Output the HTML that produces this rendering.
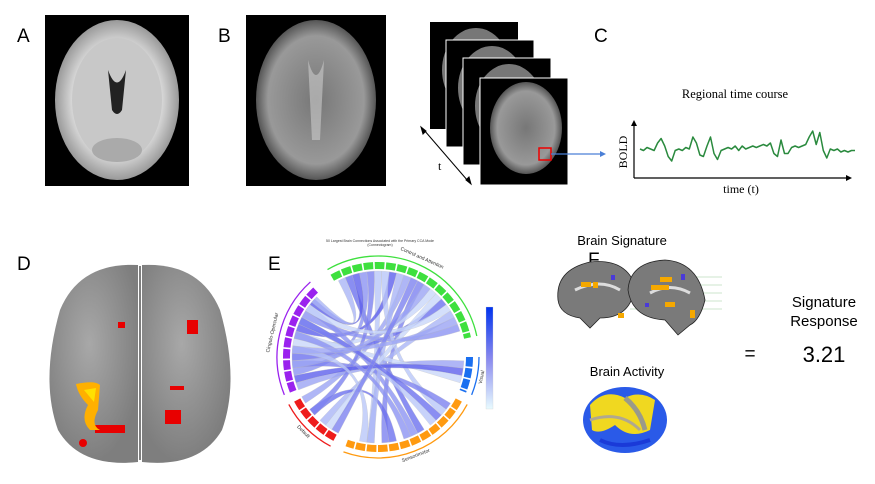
<!DOCTYPE html>
<html><head><meta charset="utf-8"><style>
body{margin:0;background:#fff;width:875px;height:484px;overflow:hidden;font-family:"Liberation Sans",sans-serif}
svg{position:absolute;left:0;top:0}
</style></head><body>
<svg width="875" height="484" viewBox="0 0 875 484">
<defs>
<radialGradient id="gA" cx="50%" cy="50%" r="50%"><stop offset="0" stop-color="#bbb"/><stop offset="0.7" stop-color="#ddd"/><stop offset="1" stop-color="#999"/></radialGradient>
<radialGradient id="gB" cx="50%" cy="50%" r="50%"><stop offset="0" stop-color="#777"/><stop offset="0.8" stop-color="#999"/><stop offset="1" stop-color="#555"/></radialGradient>
<radialGradient id="gD" cx="45%" cy="40%" r="60%"><stop offset="0" stop-color="#a8a8a8"/><stop offset="1" stop-color="#7e7e7e"/></radialGradient>
</defs>
<g font-family="Liberation Sans, sans-serif" font-size="19" fill="#000">
<text x="17" y="42">A</text>
<text x="218" y="42">B</text>
<text x="594" y="42">C</text>
<text x="17" y="270">D</text>
<text x="268" y="270">E</text>
<text x="588" y="266">F</text>
</g>
<g>
<rect x="45" y="15" width="144" height="171" fill="#000"/>
<ellipse cx="117" cy="100" rx="62" ry="80" fill="url(#gA)"/>
<ellipse cx="117" cy="100" rx="45" ry="62" fill="#c8c8c8"/>
<path d="M108 70 Q117 95 126 70 L122 110 Q117 118 112 110Z" fill="#222"/>
<ellipse cx="117" cy="150" rx="25" ry="12" fill="#aaa"/>
</g>
<g>
<rect x="246" y="15" width="140" height="171" fill="#000"/>
<ellipse cx="316" cy="100" rx="60" ry="80" fill="url(#gB)"/>
<path d="M308 60 Q316 90 324 60 L320 140 L312 140Z" fill="#ccc" opacity="0.6"/>
</g>
<g>
<rect x="430" y="22" width="88" height="107" fill="#000"/>
<ellipse cx="476" cy="70" rx="34" ry="42" fill="#777"/>
<rect x="446" y="40" width="88" height="107" fill="#000" stroke="#fff" stroke-width="1"/>
<ellipse cx="492" cy="88" rx="34" ry="42" fill="#777"/>
<rect x="463" y="58" width="88" height="107" fill="#000" stroke="#fff" stroke-width="1"/>
<ellipse cx="509" cy="106" rx="34" ry="42" fill="#777"/>
<rect x="480" y="78" width="88" height="107" fill="#000" stroke="#fff" stroke-width="1"/>
<ellipse cx="526" cy="128" rx="36" ry="46" fill="url(#gB)"/>
<rect x="539" y="148" width="12" height="12" fill="none" stroke="#e00" stroke-width="1.5"/>
</g>
<line x1="551" y1="154" x2="603" y2="154" stroke="#4a7fd6" stroke-width="1.2"/>
<path d="M606 154 l-6 -3 v6z" fill="#4a7fd6"/>
<g stroke="#000" stroke-width="1">
<line x1="424" y1="130" x2="468" y2="181"/>
<path d="M421 127 l2 7 l3 -3z M471 184 l-2 -7 l-3 3z" fill="#000"/>
</g>
<text x="438" y="170" font-family="Liberation Serif, serif" font-size="12">t</text>
<g>
<text x="735" y="98" text-anchor="middle" font-family="Liberation Serif, serif" font-size="12.5">Regional time course</text>
<line x1="634" y1="178" x2="848" y2="178" stroke="#000" stroke-width="1.2"/>
<path d="M852 178 l-6 -3 v6z" fill="#000"/>
<line x1="634" y1="178" x2="634" y2="124" stroke="#000" stroke-width="1.2"/>
<path d="M634 120 l-3 6 h6z" fill="#000"/>
<text transform="translate(627,152) rotate(-90)" text-anchor="middle" font-family="Liberation Serif, serif" font-size="12">BOLD</text>
<text x="741" y="193" text-anchor="middle" font-family="Liberation Serif, serif" font-size="12">time (t)</text>
<path id="bold" fill="none" stroke="#2a8a3e" stroke-width="1.5" stroke-linejoin="round"/>
</g>
<g>
<path d="M138 265 Q80 262 60 310 Q40 380 58 430 Q80 468 138 462Z" fill="url(#gD)"/>
<path d="M142 265 Q200 262 220 310 Q240 380 222 430 Q200 468 142 462Z" fill="url(#gD)"/>
<line x1="140" y1="266" x2="140" y2="460" stroke="#555" stroke-width="1.5"/>
<g fill="#e80000">
<rect x="118" y="322" width="7" height="6"/><rect x="187" y="320" width="11" height="14"/>
<rect x="165" y="410" width="16" height="14"/><rect x="170" y="386" width="14" height="4"/>
<rect x="95" y="425" width="30" height="8"/><circle cx="83" cy="443" r="4"/>
</g>
<path d="M76 384 Q95 380 100 385 L98 410 Q90 425 100 430 L90 430 Q80 420 88 405 Q78 395 76 384Z" fill="#ffb000"/>
<path d="M84 390 L96 388 L94 402 Z" fill="#ffe000"/>
</g>
<g id="chord"></g>
<text x="380" y="242" text-anchor="middle" font-size="3.5" fill="#333">50 Largest Brain Connections Associated with the Primary CCA Mode</text>
<text x="380" y="246" text-anchor="middle" font-size="3.5" fill="#333">(Connectogram)</text>
<g>
<defs><linearGradient id="cb" x1="0" y1="0" x2="0" y2="1"><stop offset="0" stop-color="#0033ee"/><stop offset="0.5" stop-color="#8888ee"/><stop offset="1" stop-color="#e8fbff"/></linearGradient></defs>
<rect x="486" y="307" width="7" height="102" fill="url(#cb)" stroke="#ccc" stroke-width="0.3"/>
</g>
<text x="622" y="245" text-anchor="middle" font-size="13">Brain Signature</text>
<g>
<g stroke="#9c9" stroke-width="0.5"><line x1="630" y1="277" x2="722" y2="277"/><line x1="630" y1="285" x2="722" y2="285"/><line x1="630" y1="293" x2="722" y2="293"/><line x1="630" y1="301" x2="722" y2="301"/><line x1="630" y1="309" x2="722" y2="309"/></g>
<path d="M558 300 Q555 270 590 262 Q625 258 635 285 Q632 318 600 318 L590 328 L580 318 Q560 315 558 300Z" fill="#7a7a7a" stroke="#222" stroke-width="0.8"/>
<path d="M628 290 Q630 262 665 260 Q698 262 705 300 Q700 320 690 325 L678 335 L665 320 Q632 318 628 290Z" fill="#7a7a7a" stroke="#222" stroke-width="0.8"/>
<path d="M575 290 Q600 278 620 290" stroke="#ddd" stroke-width="3" fill="none"/>
<path d="M650 293 Q670 282 690 293" stroke="#ddd" stroke-width="3" fill="none"/>
<g fill="#f5a800"><rect x="581" y="282" width="10" height="5"/><rect x="593" y="282" width="5" height="6"/><rect x="651" y="285" width="18" height="5"/><rect x="660" y="277" width="12" height="5"/><rect x="665" y="302" width="10" height="5"/><rect x="690" y="310" width="5" height="8"/><rect x="618" y="313" width="6" height="5"/></g>
<g fill="#4a3ad8"><rect x="611" y="275" width="4" height="5"/><rect x="681" y="274" width="4" height="6"/><rect x="645" y="303" width="4" height="4"/></g>
</g>
<text x="627" y="376" text-anchor="middle" font-size="13">Brain Activity</text>
<g>
<ellipse cx="625" cy="420" rx="42" ry="33" fill="#2a5ae8"/>
<path d="M590 405 Q605 388 625 398 Q640 390 655 400 L650 430 Q630 440 615 425 Q600 435 592 430Z" fill="#f0d820"/>
<path d="M625 398 Q640 410 645 430" stroke="#9a9a8a" stroke-width="5" fill="none"/>
<path d="M590 420 Q620 410 640 430" stroke="#b0a890" stroke-width="3" fill="none"/>
<path d="M600 440 Q620 450 650 440" stroke="#1a3ad8" stroke-width="4" fill="none"/>
</g>
<text x="750" y="360" text-anchor="middle" font-size="19">=</text>
<text x="824" y="307" text-anchor="middle" font-size="15">Signature</text>
<text x="824" y="326" text-anchor="middle" font-size="15">Response</text>
<text x="824" y="362" text-anchor="middle" font-size="22">3.21</text>
</svg>
<script>
const boldValues=[2,1,3,2,1,6,9,4,-3,-6,1,2,1,3,2,10,6,-2,-3,4,10,-1,-5,1,2,3,2,4,1,4,2,3,4,3,4,5,4,6,-1,-3,8,-1,-1,3,4,3,4,5,10,14,5,13,1,-4,2,1,2,0,1,0,1,1];
const svgNS="http://www.w3.org/2000/svg";
const xs=i=>640+i*(855-640)/(boldValues.length-1);
const ys=v=>152-v*1.5;
document.getElementById('bold').setAttribute('d',boldValues.map((v,i)=>(i?'L':'M')+xs(i).toFixed(1)+' '+ys(v).toFixed(1)).join(' '));

const groupNames=["Control and Attention","Visual","Sensorimotor","Default","Cingulo-Opercular"];
const groupStart=[-120,0,28,118,158];
const groupEnd=[-12,22,110,152,228];
const groupColors=["#3ee03e","#1a6ff0","#ff9a10","#ee1c1c","#9a22ee"];
const linkFrom=[-110,-100,-90,-80,-70,-60,-50,-40,-30,-20,-105,-85,5,15,35,50,65,80,95,125,140,165,175,185,195,205,215,222,-65,-25];
const linkTo=[60,170,95,200,150,85,190,180,130,210,220,40,160,195,175,205,215,140,-75,-45,-95,10,-55,100,70,45,-35,-115,120,185];
const linkStrength=[0.8,0.6,0.3,0.9,0.5,0.7,0.2,0.8,0.4,0.6,0.9,0.3,0.5,0.2,0.7,0.3,0.6,0.8,0.4,0.2,0.7,0.9,0.5,0.3,0.6,0.8,0.2,0.4,0.7,0.5];
const cx=378,cy=357,R=86;
const g=document.getElementById('chord');
const pt=(a,r)=>[cx+r*Math.cos(a*Math.PI/180),cy+r*Math.sin(a*Math.PI/180)];
const col=s=>{const a=[232,250,255],b=[80,80,235];return `rgb(${a.map((c,i)=>Math.round(c+(b[i]-c)*s)).join(',')})`;};
linkFrom.forEach((f,i)=>{
  const t=linkTo[i],w=2.5;
  const p1=pt(f-w,R),p2=pt(f+w,R),p3=pt(t-w,R),p4=pt(t+w,R);
  const p=document.createElementNS(svgNS,'path');
  p.setAttribute('d',`M${p1} A${R} ${R} 0 0 1 ${p2} Q${cx} ${cy} ${p3} A${R} ${R} 0 0 1 ${p4} Q${cx} ${cy} ${p1}Z`);
  p.setAttribute('fill',col(linkStrength[i]));p.setAttribute('opacity','0.8');p.setAttribute('stroke','#bbb');p.setAttribute('stroke-width','0.3');
  
  
  g.appendChild(p);
});
groupNames.forEach((n,i)=>{
  const s=groupStart[i],e=groupEnd[i];
  for(let a=s;a<e;a+=7){
    const a2=Math.min(a+6,e);
    const q1=pt(a,R+2),q2=pt(a2,R+2),q3=pt(a2,R+9),q4=pt(a,R+9);
    const seg=document.createElementNS(svgNS,'path');
    seg.setAttribute('d',`M${q1} A${R+2} ${R+2} 0 0 1 ${q2} L${q3} A${R+9} ${R+9} 0 0 0 ${q4}Z`);
    seg.setAttribute('fill',groupColors[i]);
    
    
    g.appendChild(seg);
  }
  const o1=pt(s,R+15),o2=pt(e,R+15);
  const arc=document.createElementNS(svgNS,'path');
  arc.setAttribute('d',`M${o1} A${R+15} ${R+15} 0 0 1 ${o2}`);
  arc.setAttribute('fill','none');arc.setAttribute('stroke',groupColors[i]);arc.setAttribute('stroke-width','1.3');
  
  
  g.appendChild(arc);
  const m=(s+e)/2,lp=pt(m,R+21);
  const tx=document.createElementNS(svgNS,'text');
  tx.setAttribute('x',lp[0]);tx.setAttribute('y',lp[1]);tx.setAttribute('font-size','5');tx.setAttribute('fill','#333');tx.setAttribute('text-anchor','middle');
  let rot=m+90;if(rot>90&&rot<270)rot-=180;
  tx.setAttribute('transform',`rotate(${rot} ${lp[0]} ${lp[1]})`);
  tx.textContent=n;
  
  
  g.appendChild(tx);
});
</script>
</body></html>
